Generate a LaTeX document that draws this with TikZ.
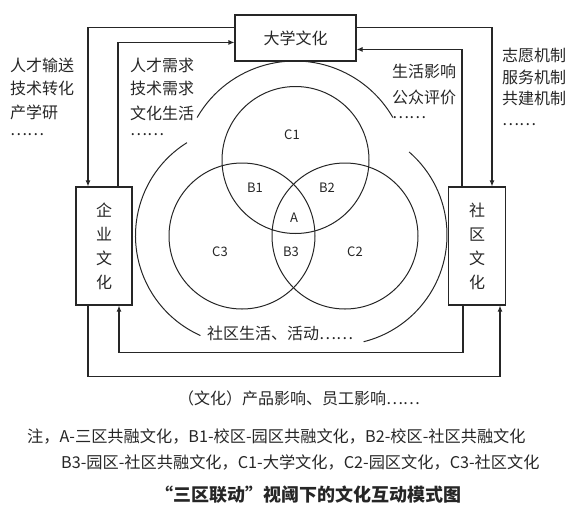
\documentclass[tikz,border=0pt]{standalone}
\usepackage{fontspec}
\setmainfont{Noto Sans CJK SC}
\usetikzlibrary{arrows.meta}
\definecolor{ink}{HTML}{262626}
\begin{document}
\begin{tikzpicture}[x=1pt,y=1pt,
  line/.style={draw=ink, line width=1.1pt},
  arr/.style={line, -{Latex[length=6pt,width=5pt]}},
  ring/.style={draw=ink, line width=1pt},
  box/.style={draw=ink, line width=1.1pt, fill=white, inner sep=0pt, text=ink, font=\fontsize{16}{24}\selectfont, align=center},
  txt/.style={text=ink, font=\fontsize{16}{18}\selectfont, inner sep=0pt},
  lab/.style={text=ink, font=\fontsize{13}{15}\selectfont, inner sep=0pt},
  note/.style={text=ink, font=\fontsize{16.2}{18}\selectfont, inner sep=0pt},
]
\useasboundingbox (0,0) rectangle (571,-507);

% three circles
\coordinate (oC1) at (295.5,-160);
\coordinate (oC3) at (242,-236);
\coordinate (oC2) at (345,-236);
\draw[ring] (oC1) circle[radius=73.5];
\draw[ring] (oC3) circle[radius=73];
\draw[ring] (oC2) circle[radius=73];

% outer arcs
\coordinate (oU) at (295,-174);
\coordinate (oL) at (245,-235.5);
\coordinate (oR) at (337,-235);
\draw[ring] (oU) ++(150:113) arc[start angle=150,end angle=30,radius=113];
\draw[ring] (oL) ++(122:109.5) arc[start angle=122,end angle=246,radius=109.5];
\draw[ring] (oR) ++(49:110) arc[start angle=49,end angle=-76,radius=110];

% region labels
\node[lab] (lC1) at (292,-135) {C1};
\node[lab] (lB1) at (255,-188) {B1};
\node[lab] (lB2) at (327,-188) {B2};
\node[lab] (lA)  at (294,-218) {A};
\node[lab] (lC3) at (220,-252) {C3};
\node[lab] (lB3) at (291,-252) {B3};
\node[lab] (lC2) at (355,-252) {C2};

% boxes
\node[box, minimum width=121pt, minimum height=46pt] (uni) at (295.5,-38) {大学文化};
\node[box, minimum width=56pt, minimum height=118pt] (ent) at (104,-246) {企\\业\\文\\化};
\node[box, minimum width=57pt, minimum height=118pt] (com) at (477,-246) {社\\区\\文\\化};

% connectors
\draw[arr] ([yshift=-13pt]uni.north west) -| ([xshift=-16pt]ent.north);
\draw[arr] ([xshift=14pt]ent.north) |- ([yshift=-28pt]uni.north west);
\draw[arr] ([yshift=-13pt]uni.north east) -| ([xshift=15pt]com.north);
\draw[arr] ([xshift=-15pt]com.north) |- ([yshift=-35pt]uni.north east);
\draw[arr] ([xshift=-14pt]com.south) -- ++(0,-47) -| ([xshift=15pt]ent.south);
\draw[arr] ([xshift=-16pt]ent.south) -- ++(0,-71) -| ([xshift=23pt]com.south);

% side texts
\node[txt, anchor=west] (t1) at (10,-65) {人才输送};
\node[txt, anchor=west] (t2) at (10,-88) {技术转化};
\node[txt, anchor=west] (t3) at (10,-112) {产学研};
\node[txt, anchor=west] (t4) at (10,-135) {……};

\node[txt, anchor=west] (s1) at (130,-65) {人才需求};
\node[txt, anchor=west] (s2) at (130,-88) {技术需求};
\node[txt, anchor=west] (s3) at (130,-113) {文化生活};
\node[txt, anchor=west] (s4) at (130,-135) {……};

\node[txt, anchor=west] (r1) at (392,-71) {生活影响};
\node[txt, anchor=west] (r2) at (392,-97) {公众评价};
\node[txt, anchor=west] (r3) at (392,-118) {……};

\node[txt, anchor=west] (f1) at (502,-55) {志愿机制};
\node[txt, anchor=west] (f2) at (502,-77) {服务机制};
\node[txt, anchor=west] (f3) at (502,-98) {共建机制};
\node[txt, anchor=west] (f4) at (502,-125) {……};

\node[txt, anchor=west] (b1) at (207,-333) {社区生活、活动……};
\node[txt] (b2) at (299,-398) {（文化）产品影响、员工影响……};

% notes and caption
\node[note, anchor=west] (n1) at (27,-436) {注，A-三区共融文化，B1-校区-园区共融文化，B2-校区-社区共融文化};
\node[note, anchor=west] (n2) at (61,-462) {B3-园区-社区共融文化，C1-大学文化，C2-园区文化，C3-社区文化};
\node[text=ink, font=\fontsize{18}{20}\selectfont\bfseries, inner sep=0pt] (cap) at (308,-495) {“三区联动”视阈下的文化互动模式图};
\end{tikzpicture}
\end{document}
